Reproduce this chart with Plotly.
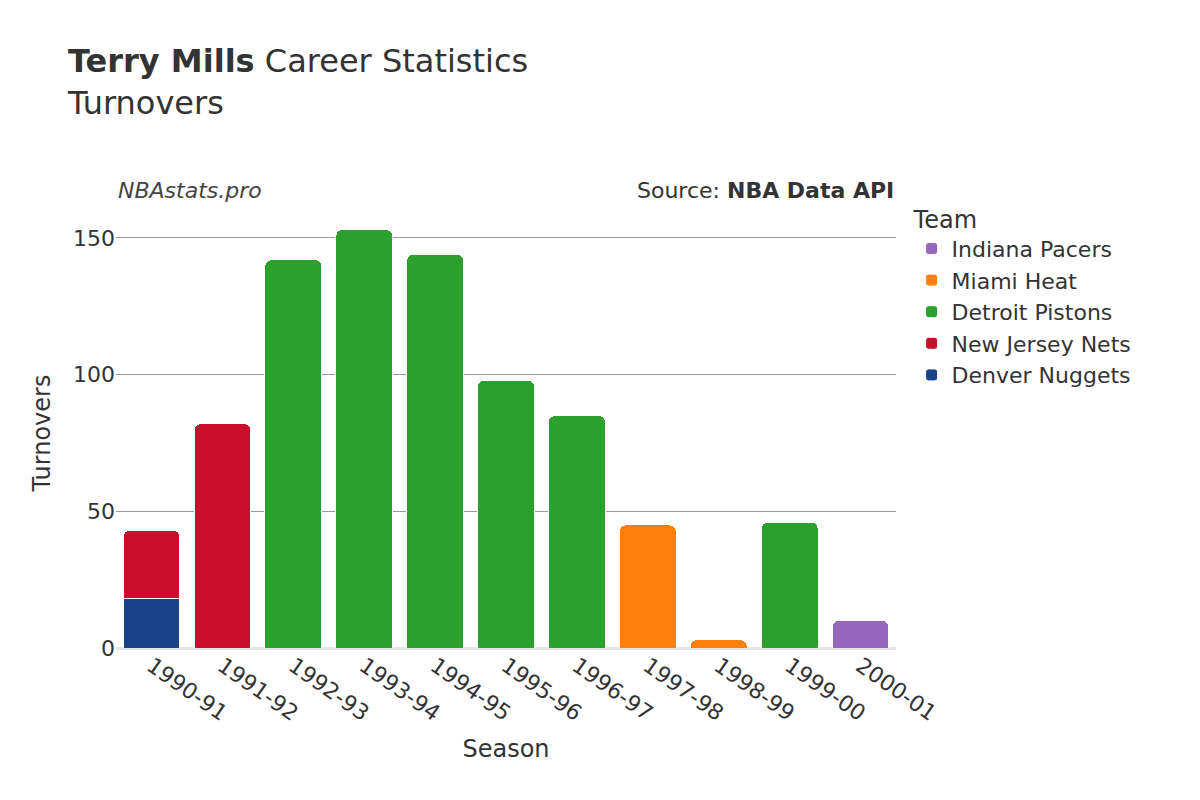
import plotly.graph_objects as go

seasons = ["1990-91", "1991-92", "1992-93", "1993-94", "1994-95", "1995-96",
           "1996-97", "1997-98", "1998-99", "1999-00", "2000-01"]

teams = ["Denver Nuggets", "New Jersey Nets", "Detroit Pistons", "Miami Heat", "Indiana Pacers"]
colors = ["#1a428a", "#c8102e", "#2ca02c", "#ff7f0e", "#9467bd"]
team_seasons = {
    "Denver Nuggets": ["1990-91"],
    "New Jersey Nets": ["1990-91", "1991-92"],
    "Detroit Pistons": ["1992-93", "1993-94", "1994-95", "1995-96", "1996-97", "1999-00"],
    "Miami Heat": ["1997-98", "1998-99"],
    "Indiana Pacers": ["2000-01"],
}
team_turnovers = {
    "Denver Nuggets": [18],
    "New Jersey Nets": [25, 82],
    "Detroit Pistons": [142, 153, 144, 98, 85, 46],
    "Miami Heat": [45, 3],
    "Indiana Pacers": [10],
}

fig = go.Figure()
for team, color in zip(teams, colors):
    fig.add_trace(go.Bar(
        x=team_seasons[team], y=team_turnovers[team], name=team,
        marker=dict(color=color, line=dict(color="white", width=1)),
    ))

fig.update_layout(
    barmode="stack",
    barcornerradius=6,
    width=1200, height=800,
    font=dict(family="DejaVu Sans", size=20, color="#333"),
    paper_bgcolor="white", plot_bgcolor="white",
    margin=dict(l=108, r=312, t=210, b=160),
    title=dict(text="<b>Terry Mills</b> Career Statistics<br>Turnovers",
               x=0.05, xanchor="left", y=0.92, yanchor="top",
               font=dict(size=32)),
    xaxis=dict(title=dict(text="Season", font=dict(size=24)),
               categoryorder="array", categoryarray=seasons,
               tickangle=35, tickfont=dict(size=22)),
    yaxis=dict(title=dict(text="Turnovers", font=dict(size=24)),
               range=[0, 157.3], tickvals=[0, 50, 100, 150],
               gridcolor="#999", zeroline=True, zerolinecolor="#e5e5e5", zerolinewidth=3,
               tickfont=dict(size=22)),
    legend=dict(title=dict(text="Team", font=dict(size=24)), x=1.02, y=1.05,
                yanchor="top", font=dict(size=22)),
    bargap=0.2,
    annotations=[
        dict(text="<i>NBAstats.pro</i>", xref="paper", yref="paper", x=0.0, y=1.03,
             xanchor="left", yanchor="bottom", showarrow=False, font=dict(size=22, color="#444")),
        dict(text="Source: <b>NBA Data API</b>", xref="paper", yref="paper", x=1.0, y=1.03,
             xanchor="right", yanchor="bottom", showarrow=False, font=dict(size=22, color="#333")),
    ],
)

fig.write_html("out.html")
